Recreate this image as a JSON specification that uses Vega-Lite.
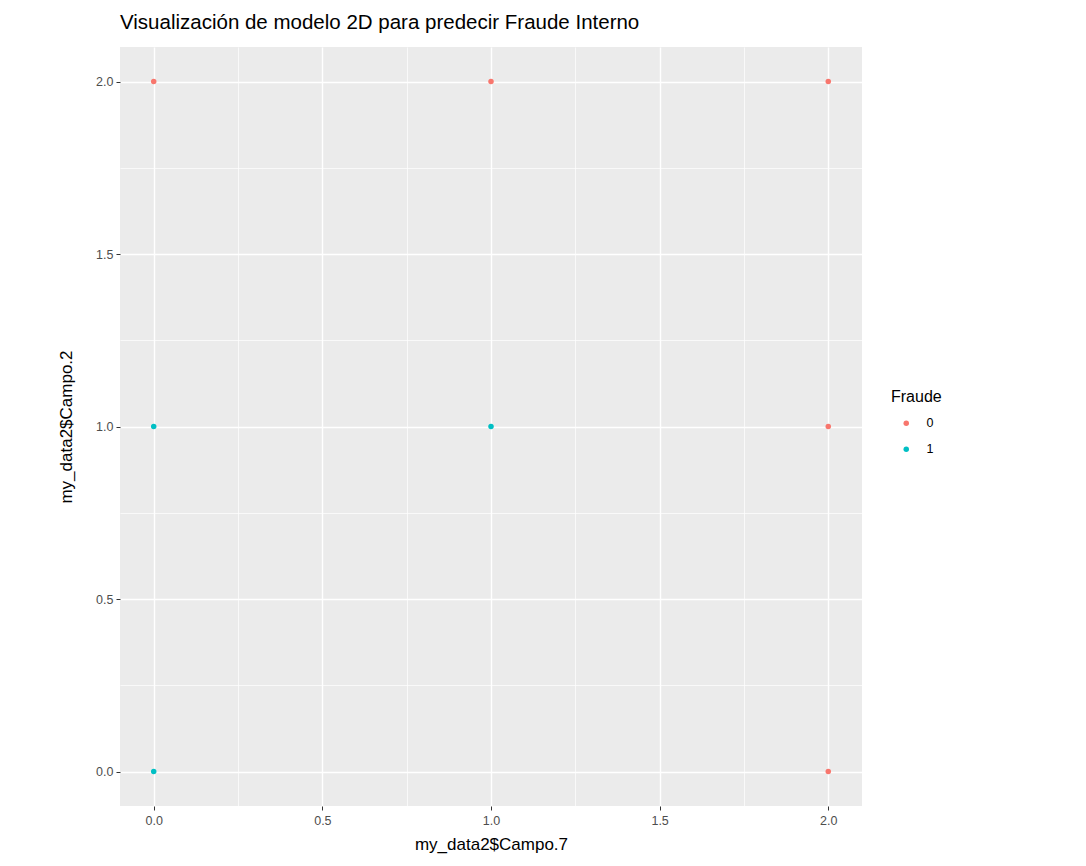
{
  "$schema": "https://vega.github.io/schema/vega-lite/v6.json",
  "autosize": {"type": "none"},
  "padding": {"left": 120, "top": 47, "right": 224, "bottom": 60},
  "width": 742,
  "height": 759,
  "background": "white",
  "title": {
    "text": "Visualización de modelo 2D para predecir Fraude Interno",
    "anchor": "start",
    "frame": "group",
    "dx": 0,
    "offset": 14,
    "font": "Liberation Sans",
    "fontSize": 20.5,
    "fontWeight": "normal",
    "color": "#000000"
  },
  "config": {
    "view": {"fill": "#EBEBEB", "stroke": null},
    "font": "Liberation Sans"
  },
  "data": {
    "values": [
      {"campo7": 0, "campo2": 2, "Fraude": "0"},
      {"campo7": 1, "campo2": 2, "Fraude": "0"},
      {"campo7": 2, "campo2": 2, "Fraude": "0"},
      {"campo7": 0, "campo2": 1, "Fraude": "1"},
      {"campo7": 1, "campo2": 1, "Fraude": "1"},
      {"campo7": 2, "campo2": 1, "Fraude": "0"},
      {"campo7": 0, "campo2": 0, "Fraude": "1"},
      {"campo7": 2, "campo2": 0, "Fraude": "0"}
    ]
  },
  "mark": {"type": "circle", "size": 30, "opacity": 1},
  "encoding": {
    "x": {
      "field": "campo7",
      "type": "quantitative",
      "scale": {"domain": [-0.1, 2.1], "nice": false, "zero": false},
      "axis": {
        "title": "my_data2$Campo.7",
        "values": [0, 0.25, 0.5, 0.75, 1, 1.25, 1.5, 1.75, 2],
        "labelExpr": "datum.value % 0.5 == 0 ? format(datum.value, '.1f') : ''",
        "grid": true,
        "gridColor": "#FFFFFF",
        "gridWidth": {"condition": {"test": "datum.value % 0.5 != 0", "value": 0.7}, "value": 1.4},
        "domain": false,
        "tickColor": "#333333",
        "tickOpacity": {"condition": {"test": "datum.value % 0.5 != 0", "value": 0}, "value": 1},
        "tickSize": 4,
        "labelColor": "#4D4D4D",
        "labelFontSize": 12.5,
        "labelPadding": 4,
        "titleFontSize": 17,
        "titleFontWeight": "normal",
        "titleColor": "#000000",
        "titlePadding": 10
      }
    },
    "y": {
      "field": "campo2",
      "type": "quantitative",
      "scale": {"domain": [-0.1, 2.1], "nice": false, "zero": false},
      "axis": {
        "title": "my_data2$Campo.2",
        "values": [0, 0.25, 0.5, 0.75, 1, 1.25, 1.5, 1.75, 2],
        "labelExpr": "datum.value % 0.5 == 0 ? format(datum.value, '.1f') : ''",
        "grid": true,
        "gridColor": "#FFFFFF",
        "gridWidth": {"condition": {"test": "datum.value % 0.5 != 0", "value": 0.7}, "value": 1.4},
        "domain": false,
        "tickColor": "#333333",
        "tickOpacity": {"condition": {"test": "datum.value % 0.5 != 0", "value": 0}, "value": 1},
        "tickSize": 4,
        "labelColor": "#4D4D4D",
        "labelFontSize": 12.5,
        "labelPadding": 3,
        "titleFontSize": 17,
        "titleFontWeight": "normal",
        "titleColor": "#000000",
        "titlePadding": 20
      }
    },
    "color": {
      "field": "Fraude",
      "type": "nominal",
      "scale": {"domain": ["0", "1"], "range": ["#F8766D", "#00BFC4"]},
      "legend": {
        "title": "Fraude",
        "orient": "none",
        "legendX": 771,
        "legendY": 342,
        "titleFontSize": 16,
        "titleFontWeight": "normal",
        "titleColor": "#000000",
        "titlePadding": 12,
        "labelFontSize": 12.5,
        "labelColor": "#000000",
        "symbolType": "circle",
        "symbolSize": 30,
        "symbolFillColor": null,
        "symbolStrokeWidth": 0,
        "symbolOffset": 9,
        "rowPadding": 13,
        "labelOffset": 14
      }
    }
  }
}
